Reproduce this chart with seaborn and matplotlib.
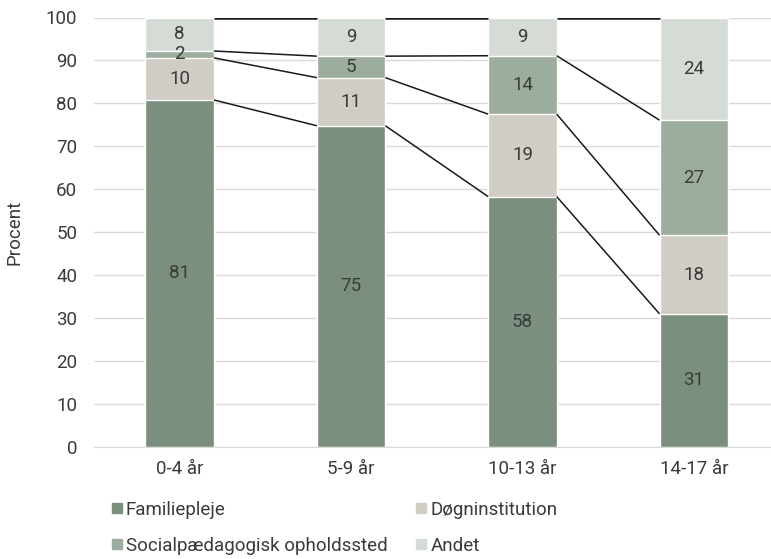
import pandas as pd
import numpy as np
import seaborn as sns
import matplotlib.pyplot as plt
from matplotlib.lines import Line2D

# data (percent)
age_groups = ['0-4 år', '5-9 år', '10-13 år', '14-17 år']
familiepleje = [80.8, 74.8, 58.3, 31.0]
dogninstitution = [9.8, 11.2, 19.2, 18.3]
socialpaed = [1.6, 5.0, 13.6, 26.8]
andet = [7.8, 9.0, 8.9, 23.9]

series_names = ['Familiepleje', 'Døgninstitution', 'Socialpædagogisk opholdssted', 'Andet']
series_values = [familiepleje, dogninstitution, socialpaed, andet]
colors = ['#7a8f7e', '#d0cdc5', '#9cad9d', '#d5dbd5']

text_color = '#3a3a3a'
fs = 13.5

sns.set_style('white')
plt.rcParams['font.family'] = ['Roboto', 'DejaVu Sans']

df = pd.DataFrame({'Alder': age_groups})
for name, vals in zip(series_names, series_values):
    df[name] = vals
cum = df[series_names].cumsum(axis=1)

fig = plt.figure(figsize=(7.71, 5.59), dpi=100)
ax = fig.add_axes([94 / 771, 1 - 447 / 559, 685.5 / 771, 429.5 / 559])

# stack by drawing cumulative totals from the top layer down
bar_sets = {}
for name, col in reversed(list(zip(series_names, colors))):
    n_before = len(ax.patches)
    sns.barplot(x=df['Alder'], y=cum[name], color=col, width=0.4,
                saturation=1, ax=ax, zorder=2)
    bar_sets[name] = ax.patches[n_before:]

# connector lines between bars
for name in series_names:
    bars = bar_sets[name]
    lw = 1.8 if name == 'Andet' else 1.1
    for a, b in zip(bars[:-1], bars[1:]):
        ax.plot([a.get_x() + a.get_width(), b.get_x()],
                [a.get_height(), b.get_height()],
                color='#1a1a1a', lw=lw, zorder=3, solid_capstyle='butt')

# value labels in the middle of each segment
for i in range(len(age_groups)):
    base = 0
    for name in series_names:
        v = df.loc[i, name]
        ax.text(i, base + v / 2, f'{v:.0f}', ha='center', va='center',
                fontsize=fs, color=text_color, zorder=4)
        base += v

ax.set_xlim(-0.5, 3.5)
ax.set_ylim(0, 100)
ax.set_yticks(range(0, 101, 10))
ax.yaxis.grid(True, color='#d9d9d9', lw=1)
ax.set_axisbelow(True)
for s in ['top', 'right', 'left']:
    ax.spines[s].set_visible(False)
ax.spines['bottom'].set_color('#d9d9d9')
ax.tick_params(axis='both', length=0, labelsize=fs, colors=text_color)
ax.tick_params(axis='x', pad=9)
ax.tick_params(axis='y', pad=12)
ax.set_xlabel('')
ax.set_ylabel('Procent', fontsize=fs, color=text_color, labelpad=16)

# legend filled row by row: Familiepleje, Døgninstitution / Social..., Andet
order = [0, 2, 1, 3]
handles = [Line2D([0], [0], marker='s', color='none', markerfacecolor=colors[k],
                  markeredgecolor=colors[k], markersize=7) for k in order]
labels = [series_names[k] for k in order]
fig.legend(handles, labels, loc='upper left', ncol=2, frameon=False,
           bbox_to_anchor=(94 / 771, 1 - 484 / 559), fontsize=fs,
           handlelength=0.6, handletextpad=0.2, columnspacing=1.5,
           labelspacing=0.95, labelcolor=text_color)

fig.savefig('out.png', dpi=100)
